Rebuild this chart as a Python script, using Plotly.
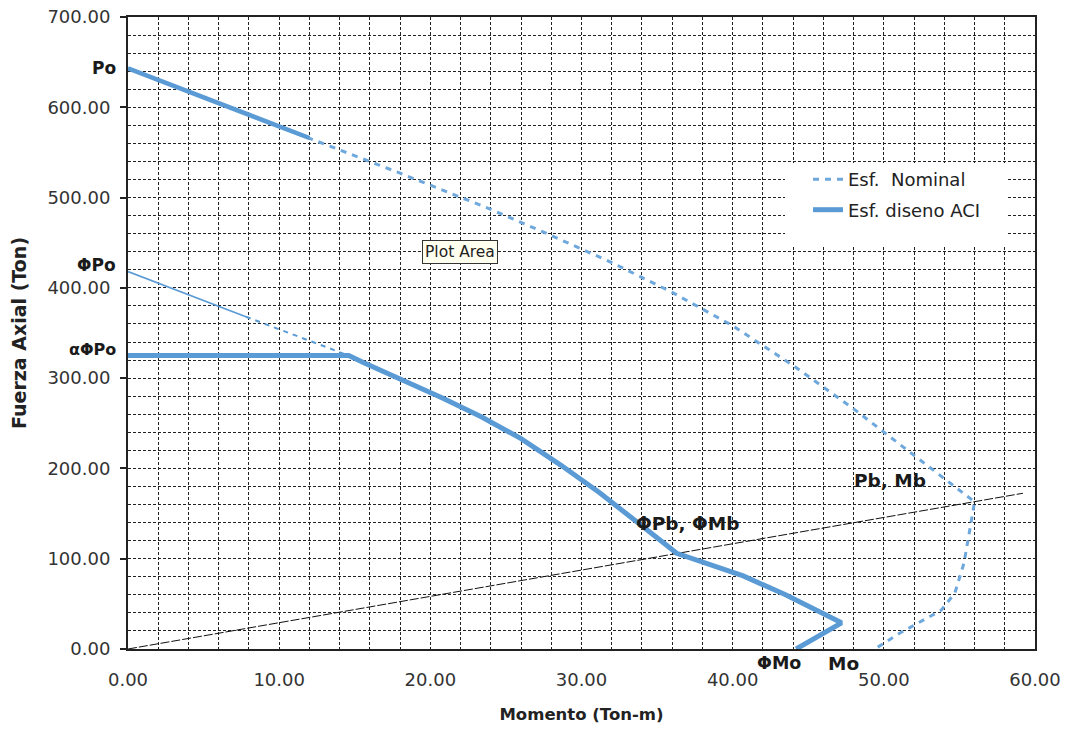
import plotly.graph_objects as go

# ---- data ----
# nominal interaction curve (Esf. Nominal)
nominal_M = [0.0, 12.0, 18.0, 24.0, 28.0, 32.0, 36.0, 40.0, 44.0, 48.0, 52.0, 54.5, 56.0,
             55.8, 55.3, 54.7, 53.8, 51.1, 49.6, 49.4]
nominal_P = [643, 566, 527, 487, 458, 428, 395, 358, 314, 266, 214, 182, 163,
             143, 95, 62, 43, 18, 2, 0]

# design curve (Esf. diseno ACI)
design_M = [0.0, 14.6, 15.6, 18.2, 20.8, 23.4, 26.0, 28.6, 31.2, 33.8, 35.4, 36.3,
            40.7, 43.5, 47.2, 44.2]
design_P = [325, 325, 317, 298, 278, 257, 233, 204, 173, 139, 118, 106,
            81, 60, 29, 0]

# reduced curve from PhiPo down to the alpha*PhiPo plateau
phi_M = [0.0, 7.8, 14.6]
phi_P = [418, 368, 325]

# balanced-point radial line
radial_M = [0.0, 59.2]
radial_P = [0.0, 172.5]

x_ticks = [0, 10, 20, 30, 40, 50, 60]
y_ticks = [0, 100, 200, 300, 400, 500, 600, 700]

BLUE = "#5b9bd5"
BLUE_D = "#6fa8dc"
FONT = "DejaVu Sans"

fig = go.Figure()

# radial line
fig.add_trace(go.Scatter(x=radial_M, y=radial_P, mode="lines", showlegend=False,
                         line=dict(color="#111111", width=1, dash="9px,2px"),
                         hoverinfo="skip"))
# reduced PhiPo line: first segment solid thin, rest dashed
fig.add_trace(go.Scatter(x=phi_M[:2], y=phi_P[:2], mode="lines", showlegend=False,
                         line=dict(color=BLUE, width=1.6), hoverinfo="skip"))
fig.add_trace(go.Scatter(x=phi_M[1:], y=phi_P[1:], mode="lines", showlegend=False,
                         line=dict(color=BLUE, width=2, dash="5px,5px"), hoverinfo="skip"))
# nominal
fig.add_trace(go.Scatter(x=nominal_M, y=nominal_P, mode="lines", name="Esf.\u00a0 Nominal",
                         legendgroup="a",
                         line=dict(color=BLUE_D, width=3, dash="6px,6px")))
fig.add_trace(go.Scatter(x=nominal_M[:2], y=nominal_P[:2], mode="lines", showlegend=False,
                         line=dict(color=BLUE, width=4.5), hoverinfo="skip"))
# design
fig.add_trace(go.Scatter(x=design_M, y=design_P, mode="lines", name="Esf. diseno ACI",
                         legendgroup="b",
                         line=dict(color=BLUE, width=5)))

GRID = dict(showgrid=True, gridcolor="#222222", gridwidth=1, griddash="3px,2px")

fig.update_xaxes(range=[0, 60], tickvals=x_ticks, ticktext=[f"{v:.2f}" for v in x_ticks],
                 showline=True, linecolor="#222222", linewidth=2, mirror=True,
                 ticks="", ticklabelstandoff=13, automargin=False, ticklabeloverflow="allow",
                 tickfont=dict(family=FONT, size=18, color="#333333"),
                 zeroline=False, **GRID,
                 minor=dict(dtick=2, tick0=0, **GRID),
                 title=dict(text="<b>Momento (Ton-m)</b>", standoff=20,
                            font=dict(family=FONT, size=16.5, color="#222222")))
fig.update_yaxes(range=[0, 700], tickvals=y_ticks, ticktext=[f"{v:.2f}" for v in y_ticks],
                 showline=True, linecolor="#222222", linewidth=2, mirror=True,
                 ticks="outside", ticklen=6, tickcolor="#222222", tickwidth=2,
                 ticklabelstandoff=6, automargin=False, ticklabeloverflow="allow",
                 tickfont=dict(family=FONT, size=18, color="#333333"),
                 zeroline=False, **GRID,
                 minor=dict(dtick=20, tick0=0, **GRID),
                 title=dict(text="<b>Fuerza Axial (Ton)</b>", standoff=16,
                            font=dict(family=FONT, size=19, color="#222222")))

# white area behind legend
fig.add_shape(type="rect", xref="paper", yref="paper", x0=0.7244, x1=0.970, y0=0.636, y1=0.769,
              fillcolor="white", line=dict(width=0), layer="above")

ann = [
    dict(text="<b>Po</b>", x=118, y=68, xanchor="right", size=17),
    dict(text="<b>ΦPo</b>", x=118, y=265, xanchor="right", size=17),
    dict(text="<b>αΦPo</b>", x=118, y=350, xanchor="right", size=16),
    dict(text="<b>ΦPb, ΦMb</b>", x=634, y=523, xanchor="left", size=18.5),
    dict(text="<b>Pb, Mb</b>", x=852, y=480, xanchor="left", size=18.5),
    dict(text="<b>ΦMo</b>", x=755, y=663, xanchor="left", size=17.5),
    dict(text="<b>Mo</b>", x=826, y=664, xanchor="left", size=18.5),
]
for a in ann:
    fig.add_annotation(text=a["text"], xref="paper", yref="paper",
                       x=(a["x"] - 128) / 907, y=(649 - a["y"]) / 632,
                       xanchor=a["xanchor"], yanchor="middle", showarrow=False,
                       font=dict(family=FONT, size=a["size"], color="#1a1a1a"))

fig.add_annotation(text="Plot Area", xref="paper", yref="paper",
                   x=(460 - 128) / 907, y=(649 - 252) / 632, showarrow=False,
                   xanchor="center", yanchor="middle",
                   font=dict(family=FONT, size=15.5, color="#222222"),
                   bgcolor="#fffff0", bordercolor="#333333", borderwidth=1, borderpad=2)

fig.update_layout(
    width=1067, height=732,
    margin=dict(l=128, r=32, t=17, b=83, autoexpand=False),
    paper_bgcolor="white", plot_bgcolor="white",
    legend=dict(x=(808 - 128) / 907, y=0.772, xanchor="left", yanchor="top",
                bgcolor="rgba(0,0,0,0)", borderwidth=0, traceorder="grouped", tracegroupgap=4,
                font=dict(family=FONT, size=18, color="#222222")),
    font=dict(family=FONT),
)

fig.write_html("out.html", config={"displayModeBar": False},
               post_script="document.body.style.margin='0';document.body.style.overflow='hidden';")
